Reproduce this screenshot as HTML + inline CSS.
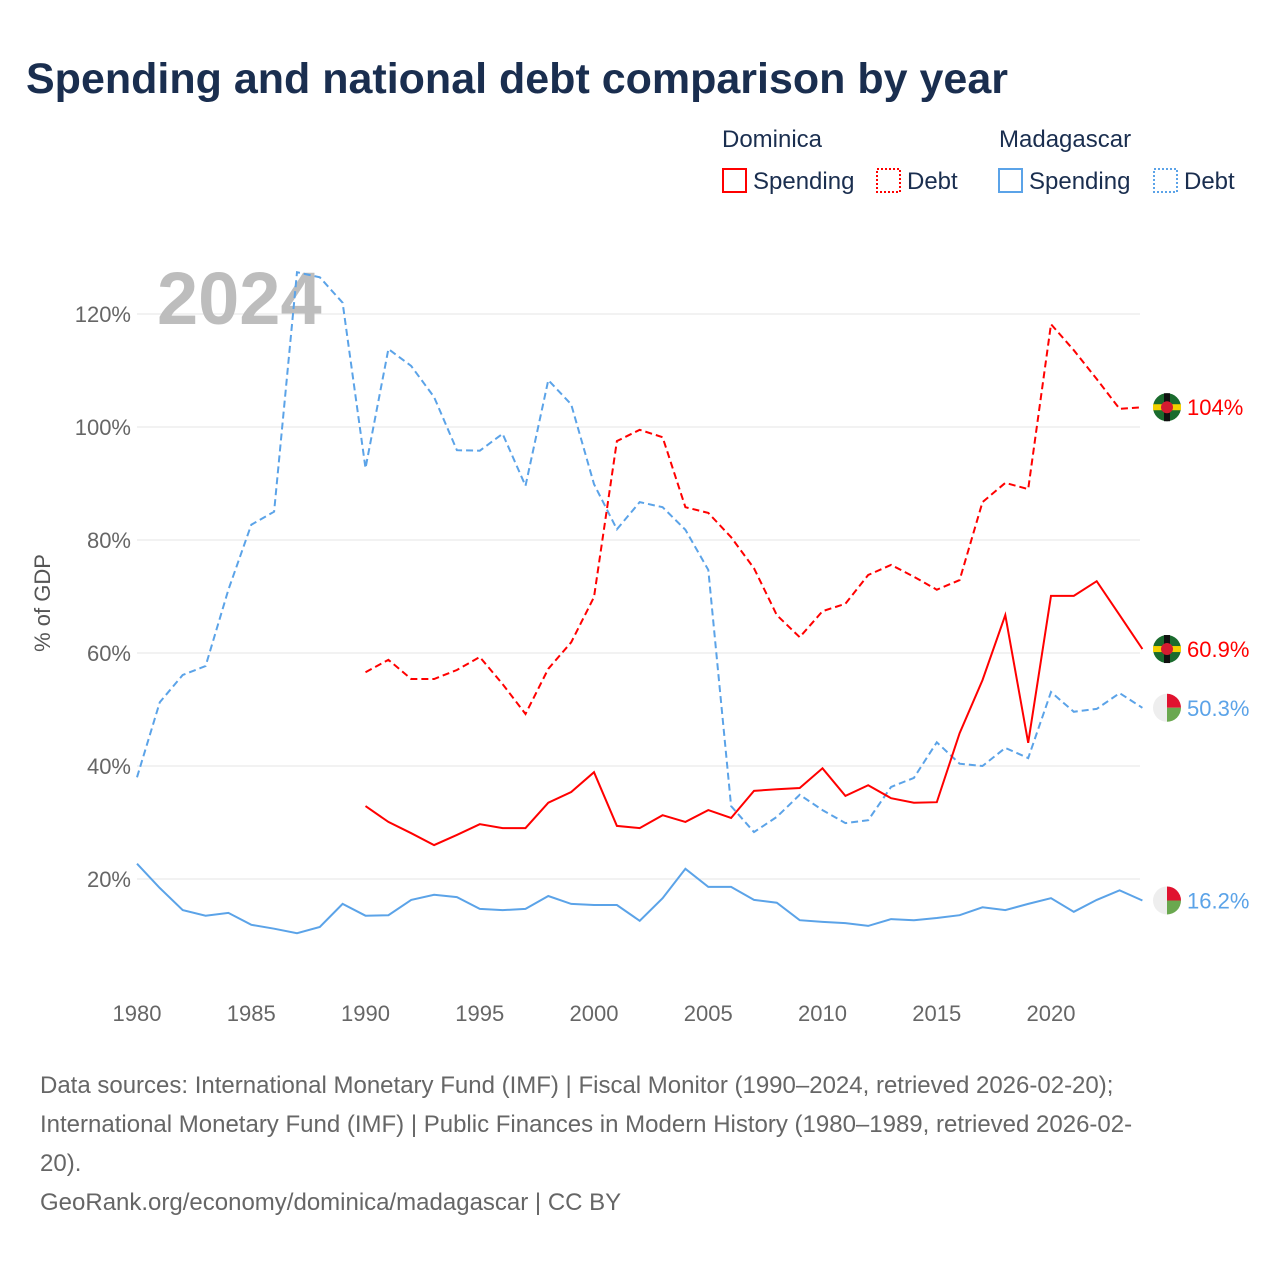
<!DOCTYPE html>
<html><head><meta charset="utf-8"><style>
body{margin:0;background:#fff;font-family:"Liberation Sans",sans-serif}
</style></head><body>
<svg width="1280" height="1280" xmlns="http://www.w3.org/2000/svg" font-family="Liberation Sans, sans-serif">
<text x="26" y="93" font-size="43" font-weight="bold" fill="#1a2e4f" textLength="982" lengthAdjust="spacingAndGlyphs">Spending and national debt comparison by year</text>
<g font-size="24" fill="#1a2e4f">
<text x="722" y="147" fill="#1a2e4f">Dominica</text>
<text x="999" y="147" fill="#1a2e4f">Madagascar</text>
<rect x="723" y="169" width="23" height="23" fill="none" stroke="red" stroke-width="2"/>
<text x="753" y="189" fill="#1a2e4f">Spending</text>
<rect x="877" y="169" width="23" height="23" fill="none" stroke="red" stroke-width="2" stroke-dasharray="2,2"/>
<text x="907" y="189" fill="#1a2e4f">Debt</text>
<rect x="999" y="169" width="23" height="23" fill="none" stroke="#5ba3e8" stroke-width="2"/>
<text x="1029" y="189" fill="#1a2e4f">Spending</text>
<rect x="1154" y="169" width="23" height="23" fill="none" stroke="#5ba3e8" stroke-width="2" stroke-dasharray="2,2"/>
<text x="1184" y="189" fill="#1a2e4f">Debt</text>
</g>
<g id="grid"></g>
<g id="yt"></g>
<g id="xt"></g>
<text x="157" y="324" font-size="74" font-weight="bold" fill="#bdbdbd">2024</text>
<text transform="translate(50,603) rotate(-90)" text-anchor="middle" font-size="22" fill="#555">% of GDP</text>
<g id="series"></g>
<g id="ends"></g>
<g font-size="24" fill="#666">
<text x="40" y="1093">Data sources: International Monetary Fund (IMF) | Fiscal Monitor (1990–2024, retrieved 2026-02-20);</text>
<text x="40" y="1132">International Monetary Fund (IMF) | Public Finances in Modern History (1980–1989, retrieved 2026-02-</text>
<text x="40" y="1171">20).</text>
<text x="40" y="1210">GeoRank.org/economy/dominica/madagascar | CC BY</text>
</g>
</svg>
<script>
const yTicks=[20,40,60,80,100,120];
const xTicks=[1980,1985,1990,1995,2000,2005,2010,2015,2020];
const madDebt=[38,51.3,56.1,57.7,71.2,82.7,85,127.4,126.5,122,92.7,113.8,110.8,105.3,95.9,95.8,98.8,89.6,108.3,104,89.9,81.9,86.7,85.8,81.8,74.7,32.9,28.3,31,34.9,32.2,29.9,30.4,36.3,37.9,44.2,40.4,40,43.2,41.4,53.1,49.6,50.1,52.9,50.3];
const madSpend=[22.7,18.4,14.5,13.5,14,11.9,11.2,10.4,11.5,15.6,13.5,13.6,16.3,17.2,16.8,14.7,14.5,14.7,17,15.6,15.4,15.4,12.6,16.6,21.8,18.6,18.6,16.3,15.8,12.7,12.4,12.2,11.7,12.9,12.7,13.1,13.6,15,14.5,15.6,16.6,14.2,16.3,18,16.2];
const domDebt=[56.6,58.8,55.4,55.4,57,59.3,54.5,49.2,57.2,61.9,69.9,97.5,99.5,98.2,85.8,84.8,80.5,75,66.7,62.8,67.4,68.7,73.8,75.6,73.5,71.2,72.9,86.7,90.1,89,118.2,113.6,108.5,103.2,103.5];
const domSpend=[32.9,30.1,28.1,26,27.8,29.7,29,29,33.5,35.4,38.9,29.4,29,31.3,30.1,32.2,30.8,35.6,35.9,36.1,39.6,34.7,36.6,34.3,33.5,33.6,45.8,55.2,66.7,44.1,70.1,70.1,72.7,66.7,60.7];
const endLabels=["104%","60.9%","50.3%","16.2%"];
const NS="http://www.w3.org/2000/svg";
const X=y=>137+(y-1980)*22.85, Y=v=>992-v*5.65;
function mk(t,a,p){const e=document.createElementNS(NS,t);for(const k in a)e.setAttribute(k,a[k]);document.getElementById(p).appendChild(e);return e;}
yTicks.forEach(v=>{
 const l=mk('line',{x1:137,x2:1140,y1:Y(v),y2:Y(v),stroke:'#e6e6e6'},'grid');
 
 
 const t=mk('text',{x:131,y:Y(v)+8,'text-anchor':'end','font-size':22,fill:'#666'},'yt');t.textContent=v+'%';
 
 
});
xTicks.forEach(v=>{
 const t=mk('text',{x:X(v),y:1021,'text-anchor':'middle','font-size':22,fill:'#666'},'xt');t.textContent=v;
 
 
});
function line(arr,start,color,dash,name){
 const d=arr.map((v,i)=>(i?'L':'M')+X(start+i).toFixed(1)+','+Y(v).toFixed(1)).join('');
 const p=mk('path',{d:d,fill:'none',stroke:color,'stroke-width':2,'stroke-dasharray':dash},'series');
 
 
}
line(madDebt,1980,'#5ba3e8','7,4','madagascar-debt-line');
line(madSpend,1980,'#5ba3e8','none','madagascar-spending-line');
line(domDebt,1990,'red','7,4','dominica-debt-line');
line(domSpend,1990,'red','none','dominica-spending-line');
const ends=[[domDebt[domDebt.length-1],'red','dom'],[domSpend[domSpend.length-1],'red','dom'],[madDebt[madDebt.length-1],'#5ba3e8','mad'],[madSpend[madSpend.length-1],'#5ba3e8','mad']];
ends.forEach((e,i)=>{
 const cx=1167,cy=Y(e[0]);
 if(e[2]==='dom'){
  mk('circle',{cx:cx,cy:cy,r:14,fill:'#1a6b2e'},'ends');
  mk('rect',{x:cx-14,y:cy-3,width:28,height:6,fill:'#f2d100'},'ends');
  mk('rect',{x:cx-3,y:cy-14,width:6,height:28,fill:'#111'},'ends');
  mk('circle',{cx:cx,cy:cy,r:6,fill:'#d41c30'},'ends');
 }else{
  mk('path',{d:`M${cx},${cy-14}A14,14 0 0 0 ${cx},${cy+14}Z`,fill:'#eee'},'ends');
  mk('path',{d:`M${cx},${cy-14}A14,14 0 0 1 ${cx+14},${cy}L${cx},${cy}Z`,fill:'#e0122f'},'ends');
  mk('path',{d:`M${cx},${cy}L${cx+14},${cy}A14,14 0 0 1 ${cx},${cy+14}Z`,fill:'#6aa84f'},'ends');
 }
 const t=mk('text',{x:1187,y:cy+8,'font-size':22,fill:e[1]},'ends');t.textContent=endLabels[i];
 
 
});
</script>
</body></html>
